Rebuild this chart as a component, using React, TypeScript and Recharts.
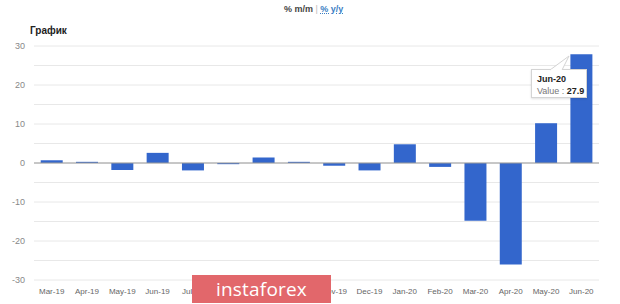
import React from 'react';
import { BarChart, Bar, XAxis, YAxis, CartesianGrid, ReferenceLine, Tooltip } from 'recharts';

const months = ['Mar-19','Apr-19','May-19','Jun-19','Jul-19','Aug-19','Sep-19','Oct-19','Nov-19','Dec-19','Jan-20','Feb-20','Mar-20','Apr-20','May-20','Jun-20'];
const values = [0.7, 0.3, -1.8, 2.6, -1.9, -0.3, 1.4, 0.3, -0.7, -1.9, 4.8, -1.0, -14.8, -26.0, 10.2, 27.9];
const yTicks = [-30, -25, -20, -15, -10, -5, 0, 5, 10, 15, 20, 25, 30];

const data = months.map((m, i) => ({ month: m, value: values[i] }));

const FONT = 'Arial, "Liberation Sans", sans-serif';

const TipContent = (props: any) => {
  const { active, payload } = props;
  if (!active || !payload || !payload.length) return null;
  const p = payload[0];
  return (
    <div style={{ position: 'relative', width: 56, height: 29, background: '#fff', border: '1px solid #d4d4d4', boxShadow: '0 1px 2px rgba(0,0,0,0.12)', fontFamily: FONT, fontSize: 9, padding: '3px 0 0 5px', boxSizing: 'border-box', lineHeight: '12px' }}>
      <svg style={{ position: 'absolute', left: 18, top: -14, overflow: 'visible' }} width={22} height={15}>
        <path d="M0,14 L19,0 L12,14" fill="#fff" stroke="#d4d4d4" strokeWidth={1} />
        <path d="M1,14.5 L12,14.5" stroke="#fff" strokeWidth={2} />
      </svg>
      <div style={{ fontWeight: 'bold', color: '#222' }}>{p.payload.month}</div>
      <div><span style={{ color: '#777' }}>Value : </span><span style={{ fontWeight: 'bold', color: '#222' }}>{p.value}</span></div>
    </div>
  );
};

export default function App() {
  return (
    <div style={{ position: 'absolute', left: 0, top: 0, width: 620, height: 304, background: '#fff', overflow: 'hidden', fontFamily: FONT }}>
      <div style={{ position: 'absolute', left: 284, top: 4, fontSize: 9, fontWeight: 'bold', whiteSpace: 'nowrap' }}>
        <span style={{ color: '#444' }}>% m/m</span>
        <span style={{ color: '#bbb', fontWeight: 'normal' }}> | </span>
        <span style={{ color: '#3b7fc4', textDecoration: 'underline dotted' }}>% y/y</span>
      </div>
      <div style={{ position: 'absolute', left: 30, top: 25, fontSize: 10, fontWeight: 'bold', color: '#222' }}>График</div>
      <BarChart width={620} height={304} data={data} margin={{ top: 46, right: 21, bottom: 0, left: 0 }} barCategoryGap="19%">
        <CartesianGrid vertical={false} stroke="#e8e8e8" />
        <XAxis dataKey="month" height={24} axisLine={false} tickLine={false} tickSize={8} tickMargin={0} interval={0}
          tick={{ fontSize: 8, fill: '#666', fontFamily: FONT }} />
        <YAxis type="number" domain={[-30, 30]} ticks={yTicks} width={34} axisLine={false} tickLine={false} tickSize={9} tickMargin={0}
          tickFormatter={(v: number) => (v % 10 === 0 ? String(v) : '')}
          tick={{ fontSize: 9, fill: '#888', fontFamily: FONT }} />
        <ReferenceLine y={0} stroke="#9a9a9a" strokeWidth={1} />
        <Tooltip content={<TipContent />} defaultIndex={15} active={true} cursor={false} position={{ x: 531, y: 69 }}
          isAnimationActive={false} wrapperStyle={{ outline: 'none' }} />
        <Bar dataKey="value" fill="#3366cc" isAnimationActive={false} />
      </BarChart>
      <div style={{ position: 'absolute', left: 192, top: 275, width: 139, height: 28, background: '#e2676b', color: '#fff', fontSize: 19, lineHeight: '28px', textAlign: 'center', fontFamily: '"Open Sans", Arial, sans-serif', letterSpacing: 0.2 }}>instaforex</div>
    </div>
  );
}
